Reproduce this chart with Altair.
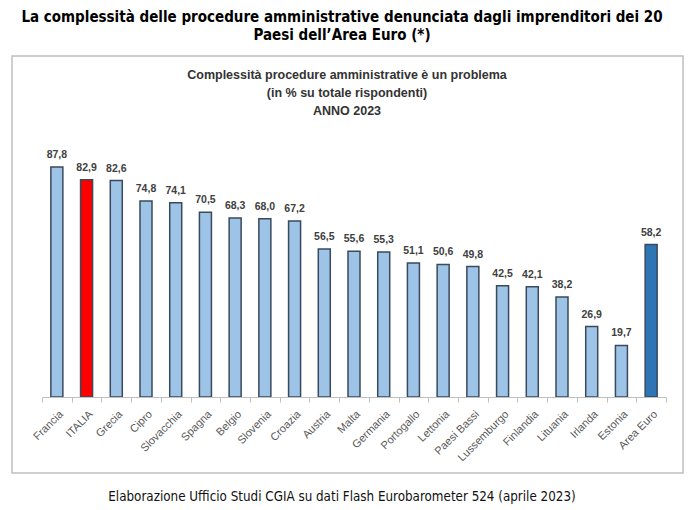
import altair as alt
import pandas as pd

countries = ["Francia", "ITALIA", "Grecia", "Cipro", "Slovacchia", "Spagna", "Belgio",
             "Slovenia", "Croazia", "Austria", "Malta", "Germania", "Portogallo", "Lettonia",
             "Paesi Bassi", "Lussemburgo", "Finlandia", "Lituania", "Irlanda", "Estonia", "Area Euro"]
values = [87.8, 82.9, 82.6, 74.8, 74.1, 70.5, 68.3, 68.0, 67.2, 56.5, 55.6, 55.3, 51.1, 50.6,
          49.8, 42.5, 42.1, 38.2, 26.9, 19.7, 58.2]
group_of = ["Italia" if c == "ITALIA" else ("Media" if c == "Area Euro" else "Paese") for c in countries]
group_domain = ["Paese", "Italia", "Media"]
group_colors = ["#9DC3E6", "#FF0000", "#2E75B6"]

title_lines = ["La complessità delle procedure amministrative denunciata dagli imprenditori dei 20",
               "Paesi dell\u2019Area Euro (*)"]
subtitle_lines = ["Complessità procedure amministrative è un problema",
                  "(in % su totale rispondenti)",
                  "ANNO 2023"]
footer = "Elaborazione Ufficio Studi CGIA su dati Flash Eurobarometer 524 (aprile 2023)"

df = pd.DataFrame({"paese": countries, "valore": values, "gruppo": group_of})

W, H = 624, 262
L, T = 34, 127

x = alt.X("paese:N", sort=countries,
          scale=alt.Scale(paddingInner=0, paddingOuter=0),
          axis=alt.Axis(title=None, labelAngle=-45, labelFontSize=11, labelColor="#595959",
                        labelFont="Liberation Sans", domainColor="#BFBFBF",
                        tickColor="#BFBFBF", tickBand="extent", tickSize=5, labelPadding=6,
                        zindex=1))
y = alt.Y("valore:Q", scale=alt.Scale(domain=[0, 100], nice=False), axis=None)

base = alt.Chart(df)

frame = alt.Chart(pd.DataFrame({"k": [0]})).mark_rect(
    filled=False, stroke="#BFBFBF", strokeWidth=1.5
).encode(x=alt.value(-30), x2=alt.value(641), y=alt.value(-79), y2=alt.value(338))

bars = base.mark_bar(size=12, stroke="#3A4A5C", strokeWidth=1.5).encode(
    x=x, y=y,
    color=alt.Color("gruppo:N", scale=alt.Scale(domain=group_domain, range=group_colors), legend=None),
)

labels = base.transform_calculate(
    lab="replace(format(datum.valore, '.1f'), '.', ',')"
).mark_text(dy=-12, fontSize=10.5, fontWeight="bold", color="#404040",
            font="Liberation Sans").encode(x=x, y=y, text="lab:N")

def txt(s, xp, yp, size, weight, font, color="#000000"):
    return alt.Chart(pd.DataFrame({"t": [s]})).mark_text(
        fontSize=size, fontWeight=weight, font=font, color=color, align="center", baseline="middle"
    ).encode(x=alt.value(xp), y=alt.value(yp), text="t:N")

TF = "DejaVu Sans Condensed, DejaVu Sans"
layers = [frame, bars, labels,
          txt(title_lines[0], 300, -118, 15, "bold", TF),
          txt(title_lines[1], 300, -100, 15, "bold", TF),
          txt(subtitle_lines[0], 305, -60, 12.5, "bold", "Liberation Sans", "#333333"),
          txt(subtitle_lines[1], 305, -42, 12.5, "bold", "Liberation Sans", "#333333"),
          txt(subtitle_lines[2], 305, -24, 12.5, "bold", "Liberation Sans", "#333333"),
          txt(footer, 300, 362, 13.3, "normal", TF, "#111111")]

chart = alt.layer(*layers).properties(
    width=W, height=H, autosize=alt.AutoSizeParams(type="none"),
    padding={"left": L, "top": T, "right": 680 - L - W, "bottom": 500 - T - H},
    background="white",
).configure_view(stroke=None)

chart.save("out.html", embed_options={"renderer": "svg", "actions": False})
